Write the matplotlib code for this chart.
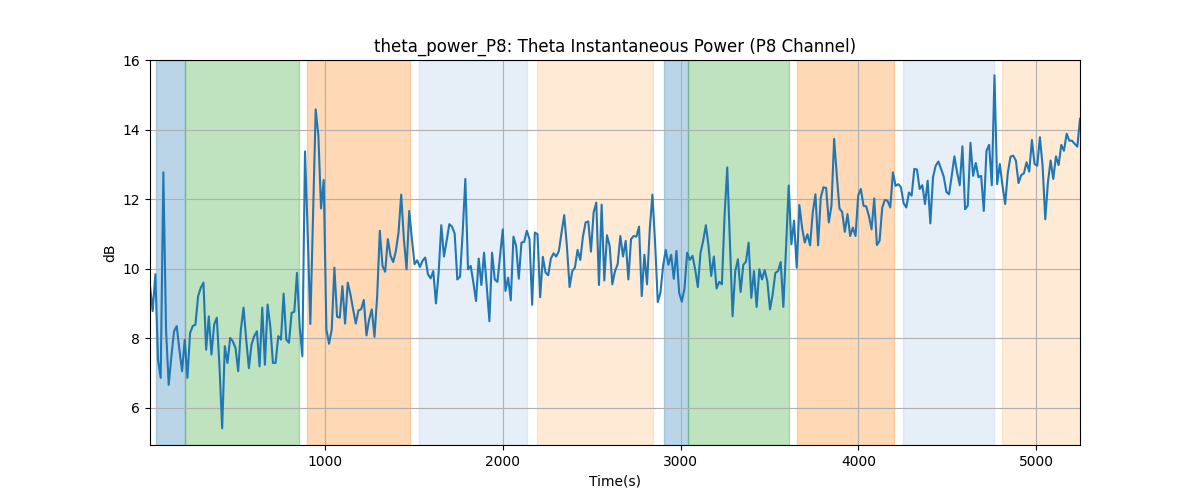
import numpy as np
import matplotlib
matplotlib.use('Agg')
import matplotlib.pyplot as plt

# theta power samples (dB), roughly every 15 s
power_db = [
  # 15 - 650 s
  9.50, 8.78, 9.84, 7.38, 6.86, 12.77, 8.25, 6.66, 7.48, 8.20, 8.35, 7.67, 7.05, 7.96, 6.86,
  8.15, 8.35, 8.39, 9.21, 9.45, 9.60, 7.67, 8.63, 7.53, 8.39, 8.59, 7.19, 5.41, 7.77, 7.29,
  8.01, 7.91, 7.72, 7.05, 8.25, 8.88, 7.96, 7.14, 7.82, 8.06, 8.20, 7.19, 8.88,
  # 650 - 1300 s
  7.24, 8.97, 8.35, 7.29, 7.29, 8.06, 7.96, 9.28, 7.96, 7.87, 8.73, 8.76, 9.88, 8.35, 7.48,
  13.37, 11.04, 8.41, 11.50, 14.58, 13.83, 11.73, 12.55, 8.25, 7.84, 8.25, 10.03, 8.62, 8.59,
  9.50, 8.42, 9.60, 9.26, 8.83, 8.42, 8.80, 8.83, 9.10, 8.08, 8.54, 8.83, 8.04, 9.20,
  # 1300 - 1950 s
  11.09, 10.08, 9.91, 10.85, 10.37, 10.19, 10.51, 11.04, 12.13, 10.85, 9.98, 11.66, 10.85,
  10.13, 10.24, 10.05, 10.23, 10.32, 9.84, 9.72, 9.93, 9.00, 9.88, 11.25, 10.35, 10.80,
  11.28, 11.21, 11.01, 9.69, 9.77, 11.04, 12.58, 9.98, 10.08, 9.60, 9.07, 10.29, 9.53,
  10.46, 9.50, 8.49, 10.46, 9.69,
  # 1950 - 2600 s
  9.62, 10.37, 11.13, 9.36, 9.74, 9.09, 10.92, 10.65, 9.71, 10.75, 10.77, 11.09, 10.85,
  8.96, 11.04, 10.99, 9.18, 10.34, 9.89, 9.81, 10.29, 10.44, 10.35, 10.51, 11.04, 11.54,
  10.65, 9.47, 9.93, 10.03, 10.54, 10.25, 10.92, 11.33, 11.36, 10.49, 11.62, 11.90, 9.53,
  11.84, 9.66, 10.96, 10.65, 9.55,
  # 2600 - 3250 s
  9.93, 10.13, 10.94, 10.35, 10.80, 9.69, 10.85, 10.94, 10.92, 11.21, 9.21, 10.40, 9.55,
  11.13, 12.13, 10.75, 9.04, 9.31, 10.08, 10.54, 10.11, 10.40, 9.71, 10.51, 9.31, 9.05,
  9.43, 10.46, 10.25, 10.37, 9.98, 9.47, 10.46, 10.80, 11.25, 10.65, 9.79, 10.35, 9.43,
  9.62, 9.55, 11.52, 12.91,
  # 3250 - 3900 s
  10.75, 8.63, 9.93, 10.27, 9.33, 10.11, 10.20, 10.75, 9.16, 9.93, 8.90, 9.98, 9.69, 9.96,
  9.64, 8.83, 9.26, 9.88, 9.93, 10.19, 8.90, 10.60, 12.39, 10.70, 11.38, 10.03, 11.83,
  11.18, 10.75, 10.99, 10.67, 11.62, 12.14, 10.67, 12.05, 12.34, 12.32, 11.33, 11.81,
  13.73, 12.67, 11.73, 11.63, 11.06,
  # 3900 - 4550 s
  11.57, 10.94, 11.18, 10.94, 12.10, 12.29, 11.81, 11.79, 11.52, 11.13, 12.02, 10.68,
  10.80, 11.76, 11.98, 11.95, 11.76, 12.77, 12.38, 12.43, 12.34, 11.88, 11.76, 12.19,
  12.10, 12.87, 12.85, 12.29, 12.40, 11.86, 12.53, 11.30, 12.63, 12.96, 13.08, 12.87,
  12.65, 12.21, 12.14, 12.67, 13.23, 12.77, 12.40, 13.52,
  # 4550 - 5246 s
  11.71, 11.81, 13.62, 12.67, 13.04, 12.63, 12.67, 11.66, 13.39, 13.56, 12.40, 15.56,
  12.43, 13.01, 12.38, 11.86, 12.77, 13.22, 13.25, 13.11, 12.46, 12.69, 12.74, 13.06,
  12.79, 13.70, 13.01, 12.96, 13.78, 12.96, 11.42, 12.48, 13.11, 12.58, 13.23, 12.98,
  13.56, 13.39, 13.88, 13.68, 13.68, 13.59, 13.51, 14.31,
]
t_start = 15
t_end = 5246
time_s = np.linspace(t_start, t_end, len(power_db))

# task / condition segments
seg_start = [50, 212, 897, 1529, 2192, 2907, 3040, 3655, 4251, 4808]
seg_end = [212, 852, 1477, 2134, 2843, 3040, 3607, 4200, 4762, 5260]
seg_color = ['tab:blue', 'tab:green', 'tab:orange', '#aec7e8', '#ffbb78',
             'tab:blue', 'tab:green', 'tab:orange', '#aec7e8', '#ffbb78']

fig, ax = plt.subplots(figsize=(12, 5), dpi=100)

for s, e, c in zip(seg_start, seg_end, seg_color):
  ax.axvspan(s, e, color=c, alpha=0.3)

ax.plot(time_s, power_db, color='tab:blue', linewidth=1.5)

ax.set_xlim(t_start, t_end)
ax.set_ylim(4.93, 16.0)
ax.set_title('theta_power_P8: Theta Instantaneous Power (P8 Channel)')
ax.set_xlabel('Time(s)')
ax.set_ylabel('dB')
ax.grid(True)

plt.savefig('out.png', dpi=100)
